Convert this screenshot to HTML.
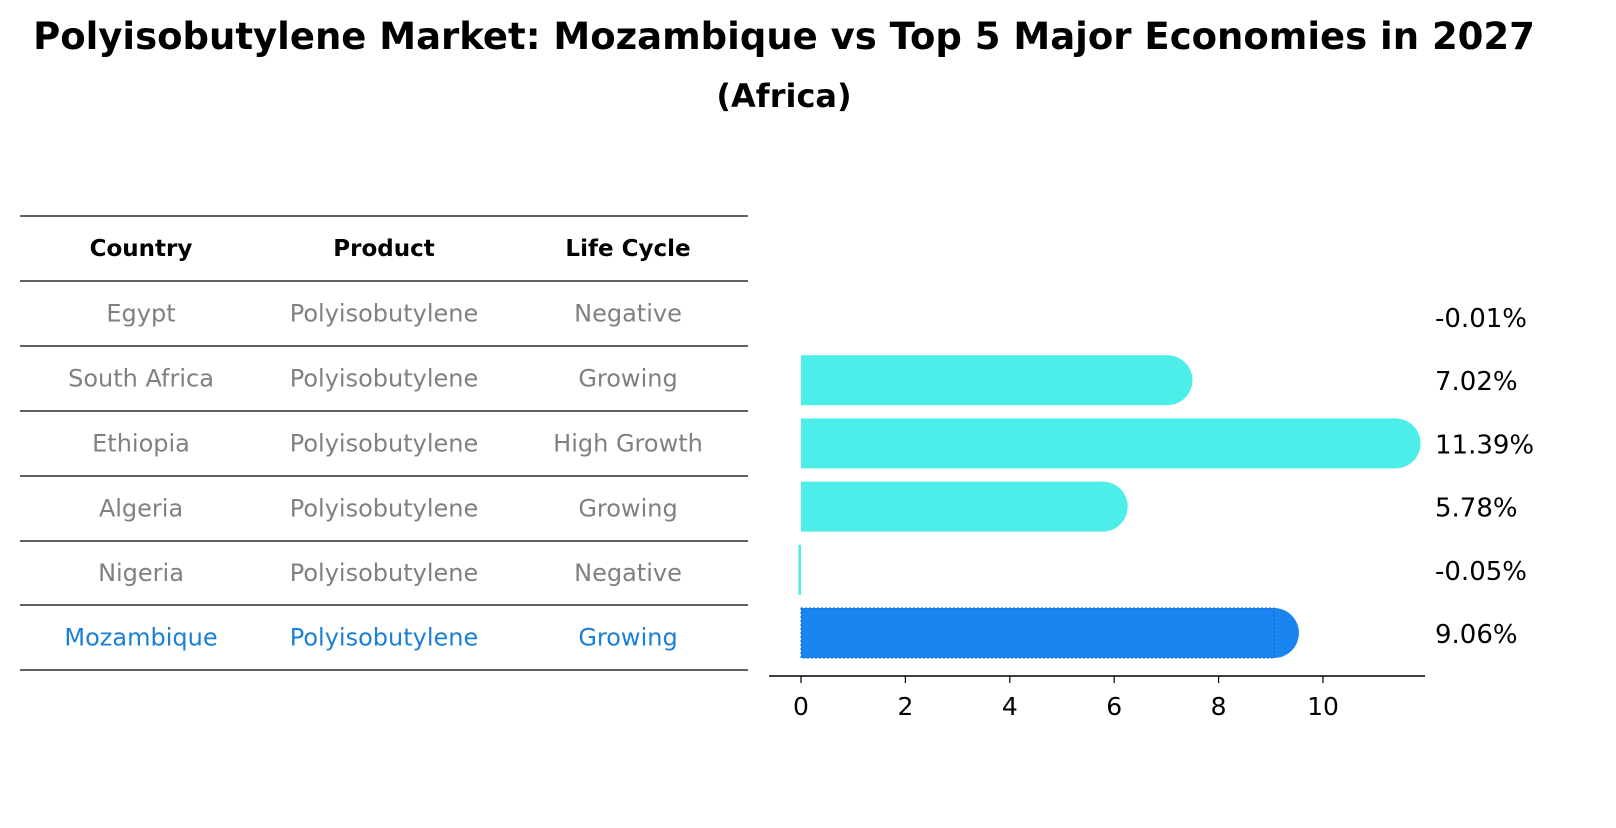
<!DOCTYPE html>
<html><head><meta charset="utf-8"><style>
body{margin:0;background:#fff;font-family:"Liberation Sans","DejaVu Sans",sans-serif}
</style></head><body>
<svg width="1616" height="823" xmlns="http://www.w3.org/2000/svg" font-family="DejaVu Sans, Liberation Sans, sans-serif">
<text x="784" y="49" text-anchor="middle" font-size="37" font-weight="bold">Polyisobutylene Market: Mozambique vs Top 5 Major Economies in 2027</text>
<text x="784" y="107" text-anchor="middle" font-size="32" font-weight="bold">(Africa)</text>
<g id="table"></g>
<g id="bars"></g>
<g id="axis"></g>
</svg>
<script>
const countries=["Egypt","South Africa","Ethiopia","Algeria","Nigeria","Mozambique"];
const products=["Polyisobutylene","Polyisobutylene","Polyisobutylene","Polyisobutylene","Polyisobutylene","Polyisobutylene"];
const lifeCycles=["Negative","Growing","High Growth","Growing","Negative","Growing"];
const growth=[-0.01,7.02,11.39,5.78,-0.05,9.06];
const valueLabels=["-0.01%","7.02%","11.39%","5.78%","-0.05%","9.06%"];
const ticks=[0,2,4,6,8,10];
const NS="http://www.w3.org/2000/svg";
function el(t,a,p,txt){const e=document.createElementNS(NS,t);for(const k in a)e.setAttribute(k,a[k]);if(txt!==undefined)e.textContent=txt;p.appendChild(e);return e;}
const x=v=>801+v*52.2;
const yc=i=>317+i*63.2;
const table=document.getElementById('table'),bars=document.getElementById('bars'),axis=document.getElementById('axis');
const lineYs=[216,281,346,411,476,541,605,670];
const colX=[141,384,628];
lineYs.forEach((ly,i)=>{const l=el('line',{x1:20,x2:748,y1:ly,y2:ly,stroke:'#000','stroke-width':1.2},table);

});
["Country","Product","Life Cycle"].forEach((h,j)=>{const t=el('text',{x:colX[j],y:256,'text-anchor':'middle','font-size':23,'font-weight':'bold'},table,h);

});
countries.forEach((c,i)=>{const col=i===countries.length-1?'#1a7fd6':'#808080';const ty=(lineYs[i+1]+lineYs[i+2])/2+8;
[c,products[i],lifeCycles[i]].forEach((v,j)=>{const t=el('text',{x:colX[j],y:ty,'text-anchor':'middle','font-size':24,fill:col},table,v);

});});
growth.forEach((v,i)=>{const hl=i===growth.length-1;const fill=hl?'#1a84f0':'#4dedea';const y=yc(i),h=50,r=25;
const g=el('g',{},bars);


if(v>0.05){el('rect',{x:x(0),y:y-h/2,width:x(v)-x(0),height:h,fill:fill},g);el('circle',{cx:x(v),cy:y,r:r,fill:fill},g);
if(hl)el('rect',{x:x(0),y:y-h/2,width:x(v)-x(0),height:h,fill:'none',stroke:'#1565c0','stroke-width':1,'stroke-dasharray':'2,2'},g);}
else if(v<-0.02){el('rect',{x:x(v),y:y-h/2,width:Math.max(2,x(0)-x(v)),height:h,fill:fill},g);}
const t=el('text',{x:1435,y:y+10,'font-size':26},bars,valueLabels[i]);

});
el('line',{x1:769,x2:1425,y1:676,y2:676,stroke:'#000','stroke-width':1.5},axis);
ticks.forEach(tv=>{el('line',{x1:x(tv),x2:x(tv),y1:676,y2:683,stroke:'#000','stroke-width':1.2},axis);
const t=el('text',{x:x(tv),y:715,'text-anchor':'middle','font-size':25},axis,String(tv));

});
</script>
</body></html>
